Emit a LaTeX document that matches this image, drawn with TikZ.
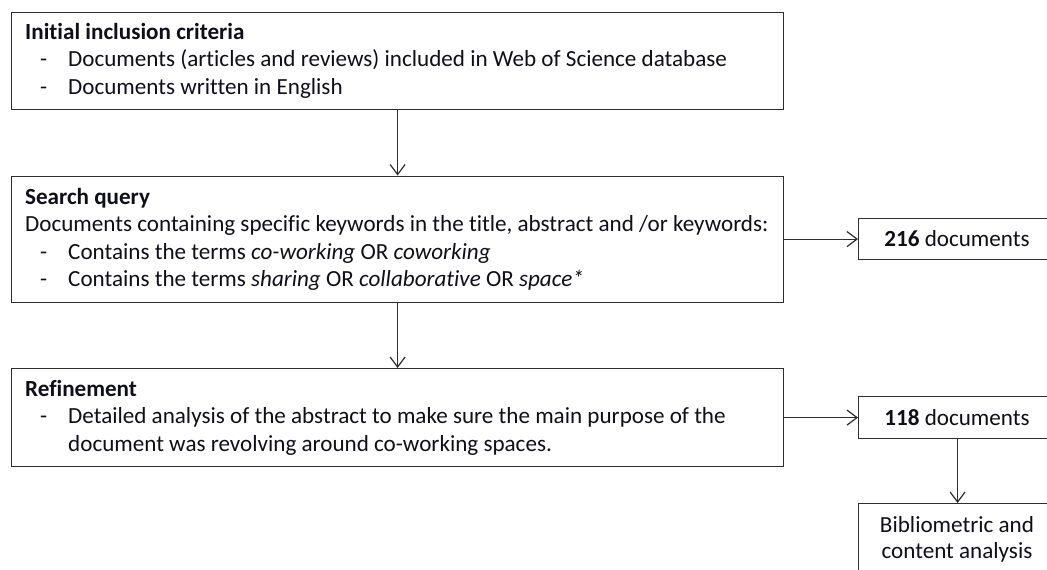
\documentclass[tikz,border=0pt]{standalone}
\usepackage{fontspec}
\setmainfont{Carlito}[Ligatures={NoCommon}]
\usetikzlibrary{arrows.meta}
\definecolor{linec}{RGB}{45,45,45}
\definecolor{txtc}{RGB}{15,15,25}
\tikzset{
  box/.style={draw=linec, line width=1.2pt, inner sep=0pt, anchor=north west},
  txt/.style={anchor=base west, inner sep=0pt, text=txtc, font=\fontsize{23.1}{27.5}\selectfont},
  ctxt/.style={anchor=base, inner sep=0pt, text=txtc, font=\fontsize{23.1}{27.5}\selectfont},
  arr/.style={draw=linec, line width=1.2pt, -{Straight Barb[length=10pt,width=15pt,line width=1.2pt]}},
}
\begin{document}
\begin{tikzpicture}[x=1pt,y=-1pt]
\useasboundingbox (0,0) rectangle (1047,570);
\fill[white] (0,0) rectangle (1047,570);
\clip (0,0) rectangle (1047,570);
% boxes
\node[box, minimum width=772pt, minimum height=97pt] (b1) at (11,12) {};
\node[box, minimum width=772pt, minimum height=126pt] (b2) at (11,175.5) {};
\node[box, minimum width=772pt, minimum height=98pt] (b3) at (11,368) {};
\node[box, minimum width=198pt, minimum height=41pt] (r1) at (858,218) {};
\node[box, minimum width=198pt, minimum height=42pt] (r2) at (858,396) {};
\node[box, minimum width=198pt, minimum height=100pt] (r3) at (858,503) {};
% box 1 text
\node[txt] (t1a) at (25,39) {\bfseries Initial inclusion criteria};
\node[txt] (t1b) at (40,66.7) {-};
\node[txt] (t1c) at (68,66.7) {Documents (articles and reviews) included in Web of Science database};
\node[txt] (t1d) at (40,94.2) {-};
\node[txt] (t1e) at (68,94.2) {Documents written in English};
% box 2 text
\node[txt] (t2a) at (25,204) {\bfseries Search query};
\node[txt] (t2b) at (25,231.7) {Documents containing specific keywords in the title, abstract and /or keywords:};
\node[txt] (t2c) at (40,259.2) {-};
\node[txt] (t2d) at (68,259.2) {Contains the terms \textit{co-working} OR \textit{coworking}};
\node[txt] (t2e) at (40,286.7) {-};
\node[txt] (t2f) at (68,286.7) {Contains the terms \textit{sharing} OR \textit{collaborative} OR \textit{space*}};
% box 3 text
\node[txt] (t3a) at (25,396) {\bfseries Refinement};
\node[txt] (t3b) at (40,423.7) {-};
\node[txt] (t3c) at (68,423.7) {Detailed analysis of the abstract to make sure the main purpose of the};
\node[txt] (t3d) at (68,451.2) {document was revolving around co-working spaces.};
% right boxes text
\node[ctxt] (tr1) at (957,246) {\textbf{216} documents};
\node[ctxt] (tr2) at (957,425) {\textbf{118} documents};
\node[ctxt] (tr3a) at (957,532) {Bibliometric and};
\node[ctxt] (tr3b) at (957,558.5) {content analysis};
% connectors
\draw[arr] (b1.south) -- (b2.north);
\draw[arr] (b2.south) -- (b3.north);
\draw[arr] (b2.east |- r1.west) -- (r1.west);
\draw[arr] (b3.east |- r2.west) -- (r2.west);
\draw[arr] (r2.south) -- (r3.north);
\end{tikzpicture}
\end{document}
